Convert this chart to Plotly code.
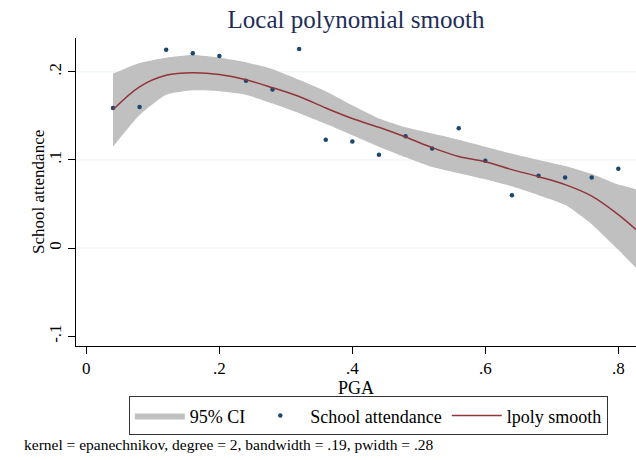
import plotly.graph_objects as go

# Data
pga = [0.04, 0.08, 0.12, 0.16, 0.20, 0.24, 0.28, 0.32, 0.36, 0.40,
       0.44, 0.48, 0.52, 0.56, 0.60, 0.64, 0.68, 0.72, 0.76, 0.80]
attendance = [0.159, 0.160, 0.225, 0.221, 0.218, 0.190, 0.180, 0.226, 0.123, 0.121,
              0.106, 0.127, 0.113, 0.136, 0.099, 0.060, 0.082, 0.080, 0.080, 0.090]

grid_x = [0.04, 0.08, 0.12, 0.16, 0.20, 0.24, 0.28, 0.32, 0.36, 0.40, 0.44,
          0.48, 0.52, 0.56, 0.60, 0.64, 0.68, 0.72, 0.76, 0.80, 0.84]
smooth = [0.157, 0.183, 0.196, 0.199, 0.197, 0.191, 0.182, 0.172, 0.159, 0.147, 0.137,
          0.126, 0.114, 0.104, 0.098, 0.089, 0.081, 0.072, 0.059, 0.038, 0.012]
ci_upper = [0.198, 0.210, 0.216, 0.219, 0.216, 0.211, 0.203, 0.191, 0.178, 0.162, 0.147,
            0.137, 0.130, 0.123, 0.115, 0.107, 0.100, 0.093, 0.084, 0.072, 0.062]
ci_lower = [0.115, 0.151, 0.174, 0.179, 0.178, 0.174, 0.164, 0.153, 0.141, 0.128, 0.115,
            0.103, 0.092, 0.085, 0.078, 0.070, 0.060, 0.049, 0.027, -0.002, -0.030]

x_ticks = [0, 0.2, 0.4, 0.6, 0.8]
x_ticklabels = ["0", ".2", ".4", ".6", ".8"]
y_ticks = [-0.1, 0, 0.1, 0.2]
y_ticklabels = ["-.1", "0", ".1", ".2"]
grid_y = [0, 0.1, 0.2]

title = "Local polynomial smooth"
x_title = "PGA"
y_title = "School attendance"
note = "kernel = epanechnikov, degree = 2, bandwidth = .19, pwidth = .28"

FONT = "Liberation Serif"
fig = go.Figure()

fig.add_trace(go.Scatter(
    x=grid_x + grid_x[::-1], y=ci_upper + ci_lower[::-1],
    fill="toself", fillcolor="#c0c0c0",
    line=dict(width=0, color="#c0c0c0", shape="spline", smoothing=0.5),
    mode="lines", name="95% CI", hoverinfo="skip"))
fig.add_trace(go.Scatter(
    x=pga, y=attendance, mode="markers", name="School attendance",
    marker=dict(color="#1a476f", size=4.5)))
fig.add_trace(go.Scatter(
    x=grid_x, y=smooth, mode="lines", name="lpoly smooth",
    line=dict(color="#90353b", width=1.5, shape="spline")))

for gy in grid_y:
    fig.add_shape(type="line", xref="paper", x0=0, x1=1, yref="y", y0=gy, y1=gy,
                  line=dict(color="#eaf2f3", width=1), layer="below")

fig.add_annotation(text=note, xref="paper", yref="paper", x=-0.097, y=-0.321,
                   xanchor="left", yanchor="middle", showarrow=False,
                   font=dict(family=FONT, size=15.5, color="#000000"))
fig.add_annotation(text=y_title, xref="paper", yref="paper", x=-0.068, y=0.5,
                   xanchor="center", yanchor="middle", textangle=-90, showarrow=False,
                   font=dict(family=FONT, size=17, color="#000000"))

fig.update_layout(
    width=636, height=460,
    margin=dict(l=76, r=0, t=38, b=114, autoexpand=False),
    paper_bgcolor="white", plot_bgcolor="white",
    font=dict(family=FONT, color="#000000"),
    title=dict(text=title, x=0.5, xref="paper", xanchor="center",
               y=0.958, yanchor="middle", yref="container",
               font=dict(family=FONT, size=25, color="#1e2e58")),
    showlegend=True,
    legend=dict(orientation="h", x=0.522, xanchor="center", y=-0.227, yanchor="middle",
                bordercolor="#333333", borderwidth=1, bgcolor="white",
                font=dict(family=FONT, size=18, color="#000000"),
                itemwidth=50, traceorder="normal"),
    xaxis=dict(range=[-0.0156, 0.8266], tickvals=x_ticks, ticktext=x_ticklabels,
               showgrid=False, zeroline=False, showline=True, linecolor="#000000",
               linewidth=1, ticks="outside", ticklen=7, tickcolor="#000000",
               tickfont=dict(family=FONT, size=17), automargin=False,
               title=dict(text=x_title, font=dict(family=FONT, size=18), standoff=0)),
    yaxis=dict(range=[-0.1112, 0.2384], tickvals=y_ticks, ticktext=y_ticklabels,
               showgrid=False, zeroline=False, showline=True, linecolor="#000000",
               linewidth=1, ticks="outside", ticklen=7, tickcolor="#000000",
               tickangle=-90, tickfont=dict(family=FONT, size=17), automargin=False,
               ticklabelstandoff=0),
)

fig.write_html("out.html", config={"displayModeBar": False},
               post_script="document.body.style.margin='0px';document.body.style.overflow='hidden';")
